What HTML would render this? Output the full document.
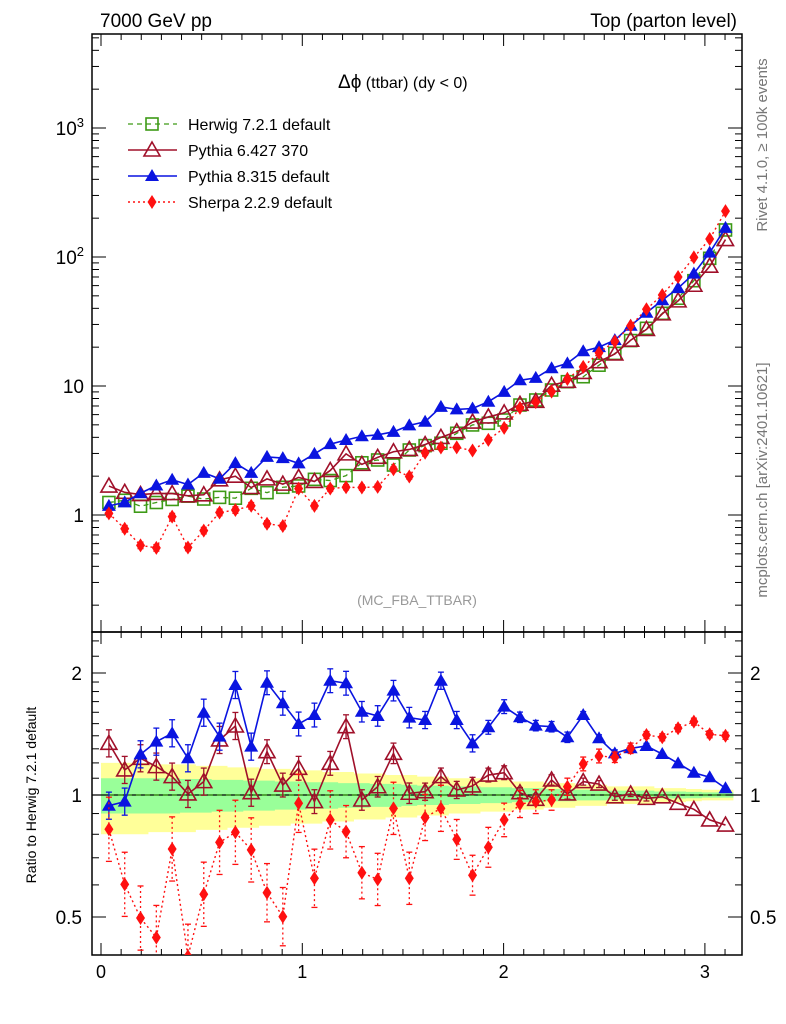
<!DOCTYPE html>
<html><head><meta charset="utf-8"><style>
body{margin:0;background:#fff}
svg{display:block;font-family:"Liberation Sans",sans-serif}
</style></head><body>
<svg id="chart" width="786" height="1024" viewBox="0 0 786 1024" xmlns="http://www.w3.org/2000/svg">
<g id="bands"></g>
<g id="grid"></g>
<g id="series"></g>
<text x="100" y="27" font-size="19">7000 GeV pp</text>
<text x="737" y="27" font-size="19" text-anchor="end">Top (parton level)</text>
<text x="338" y="88" font-size="16"><tspan font-size="19">Δϕ</tspan> (ttbar) (dy &lt; 0)</text>
<text x="417" y="605" font-size="14" fill="#999" text-anchor="middle">(MC_FBA_TTBAR)</text>
<text transform="translate(767,145) rotate(-90)" font-size="15" fill="#777" text-anchor="middle">Rivet 4.1.0, ≥ 100k events</text>
<text transform="translate(767,480) rotate(-90)" font-size="15" fill="#777" text-anchor="middle">mcplots.cern.ch [arXiv:2401.10621]</text>
<text transform="translate(36,795) rotate(-90)" font-size="14" text-anchor="middle">Ratio to Herwig 7.2.1 default</text>
<g id="legend"></g>
</svg>
<script>
const herwig=[1.25,1.3,1.17,1.25,1.32,1.4,1.33,1.37,1.35,1.61,1.49,1.64,1.68,1.89,1.85,2.02,2.54,2.67,2.44,3.19,3.45,3.6,4.3,4.99,5.14,5.45,7.12,7.79,9.31,10.8,11.8,14.5,17.9,22.5,28,36.6,47.9,65.5,97.7,162];
const ratioPy6=[1.341,1.153,1.232,1.175,1.11,1.006,1.079,1.367,1.48,1.013,1.279,1.058,1.164,0.963,1.197,1.474,0.972,1.048,1.267,1.01,1.019,1.11,1.029,1.053,1.12,1.135,1.013,0.976,1.089,1.006,1.079,1.064,0.99,1.006,0.981,0.99,0.954,0.922,0.868,0.843];
const ratioPy8=[0.941,0.963,1.26,1.354,1.42,1.232,1.596,1.393,1.868,1.316,1.892,1.684,1.497,1.575,1.914,1.887,1.605,1.567,1.809,1.552,1.531,1.914,1.531,1.341,1.469,1.652,1.555,1.483,1.474,1.388,1.575,1.38,1.267,1.304,1.321,1.262,1.197,1.135,1.106,1.039];
const ratioSherpa=[0.823,0.602,0.497,0.445,0.736,0.40,0.569,0.764,0.809,0.732,0.574,0.501,0.954,0.623,0.868,0.812,0.643,0.619,0.927,0.623,0.88,0.927,0.777,0.634,0.743,0.868,0.95,0.963,0.972,1.048,1.193,1.248,1.239,1.304,1.406,1.388,1.461,1.517,1.412,1.4];
const bandYellow=[0.2,0.2,0.2,0.19,0.19,0.19,0.18,0.18,0.17,0.17,0.16,0.16,0.15,0.15,0.14,0.14,0.13,0.13,0.12,0.12,0.11,0.11,0.10,0.10,0.09,0.09,0.08,0.08,0.07,0.07,0.06,0.06,0.05,0.05,0.05,0.04,0.04,0.035,0.03,0.03];
const bandGreen=[0.1,0.1,0.1,0.1,0.1,0.095,0.095,0.09,0.09,0.085,0.085,0.08,0.08,0.075,0.075,0.07,0.07,0.065,0.065,0.06,0.055,0.055,0.05,0.05,0.045,0.045,0.04,0.04,0.035,0.035,0.03,0.03,0.025,0.025,0.025,0.02,0.02,0.018,0.015,0.015];
const errPy=[0.08,0.08,0.08,0.08,0.08,0.08,0.08,0.08,0.08,0.08,0.07,0.07,0.07,0.07,0.07,0.07,0.06,0.06,0.06,0.06,0.05,0.05,0.05,0.05,0.04,0.04,0.03,0.03,0.03,0.03,0.02,0.02,0.02,0.015,0.015,0.01,0.01,0.01,0.01,0.01];
const errSherpa=[0.2,0.2,0.2,0.2,0.2,0.2,0.2,0.2,0.2,0.2,0.18,0.18,0.18,0.18,0.18,0.16,0.16,0.16,0.16,0.16,0.14,0.14,0.12,0.12,0.12,0.1,0.08,0.07,0.06,0.05,0.04,0.04,0.03,0.03,0.02,0.02,0.02,0.02,0.02,0.02];
const xTickLabels=["0","1","2","3"];
const mainTicks=[[1000,"10^3"],[100,"10^2"],[10,"10"],[1,"1"]];
const ratioTicks=[[2,"2"],[1,"1"],[0.5,"0.5"]];
const NB=40, W=Math.PI/NB;
const X0=92,X1=742,MT=34,MB=632,RB=955;
const xs=v=>101+v*201.3;
const ym=v=>515-129*Math.log10(v);
const yr=v=>795-122*Math.log2(v);
const NS='http://www.w3.org/2000/svg';
function mk(tag,at,par){const e=document.createElementNS(NS,tag);for(const k in at)e.setAttribute(k,at[k]);par.appendChild(e);return e;}
const G=document.getElementById('grid'),S=document.getElementById('series'),B=document.getElementById('bands'),L=document.getElementById('legend');
// bands
function bandPath(arr){let top='',bot=[];for(let i=0;i<NB;i++){const a=xs(i*W),b=xs((i+1)*W);top+=(i?'L':'M')+a+','+yr(1+arr[i])+'L'+b+','+yr(1+arr[i]);bot.unshift('L'+b+','+yr(1-arr[i])+'L'+a+','+yr(1-arr[i]));}return top+bot.join('')+'Z';}
let by=mk('path',{d:bandPath(bandYellow),fill:'#ffff99'},B);


let bg=mk('path',{d:bandPath(bandGreen),fill:'#99ff99'},B);


// frames
let f1=mk('rect',{x:X0,y:MT,width:X1-X0,height:MB-MT,fill:'none',stroke:'#000','stroke-width':1.5},G);


let f2=mk('rect',{x:X0,y:MB,width:X1-X0,height:RB-MB,fill:'none',stroke:'#000','stroke-width':1.5},G);


mk('line',{x1:X0,x2:X1,y1:yr(1),y2:yr(1),stroke:'#000','stroke-width':1.2},G);
// x ticks
for(let k=0;k<=31;k++){const v=k/10,x=xs(v);if(x>X1)break;const L2=(k%10==0)?12:6;
 for(const [yt,yb] of [[MT,MB],[MB,RB]]){mk('line',{x1:x,x2:x,y1:yt,y2:yt+L2,stroke:'#000'},G);mk('line',{x1:x,x2:x,y1:yb,y2:yb-L2,stroke:'#000'},G);}}
xTickLabels.forEach((t,i)=>{let e=mk('text',{x:xs(i),y:978,'font-size':18,'text-anchor':'middle'},G);e.textContent=t;

});
// main y ticks
for(let d=-1;d<=3;d++)for(let m=1;m<=9;m++){const v=m*Math.pow(10,d),y=ym(v);if(y<MT||y>MB)continue;const l=m==1?14:7;
 mk('line',{x1:X0,x2:X0+l,y1:y,y2:y,stroke:'#000'},G);mk('line',{x1:X1,x2:X1-l,y1:y,y2:y,stroke:'#000'},G);}
mainTicks.forEach(([v,t])=>{let e=mk('text',{x:84,y:ym(v)+7,'font-size':19,'text-anchor':'end'},G);
 if(t.includes('^')){const p=t.split('^');e.textContent=p[0];let s=mk('tspan',{dy:-8,'font-size':13},e);s.textContent=p[1];}else e.textContent=t;

});
// ratio ticks
[0.4,0.5,0.6,0.7,0.8,0.9,1,1.1,1.2,1.3,1.4,1.5,1.6,1.7,1.8,1.9,2,2.2,2.4].forEach(v=>{const y=yr(v);if(y<MB||y>RB)return;const l=(v==0.5||v==1||v==2)?14:7;
 mk('line',{x1:X0,x2:X0+l,y1:y,y2:y,stroke:'#000'},G);mk('line',{x1:X1,x2:X1-l,y1:y,y2:y,stroke:'#000'},G);});
ratioTicks.forEach(([v,t])=>{for(const [x,a] of [[82,'end'],[750,'start']]){let e=mk('text',{x:x,y:yr(v)+7,'font-size':19,'text-anchor':a},G);e.textContent=t;

}});
// markers
function marker(type,x,y,col,par){
 if(type=='sq')return mk('rect',{x:x-6,y:y-6,width:12,height:12,fill:'none',stroke:col,'stroke-width':1.6},par);
 if(type=='tro')return mk('path',{d:`M${x},${y-8}L${x+8},${y+6}L${x-8},${y+6}Z`,fill:'#fff','fill-opacity':0,stroke:col,'stroke-width':1.6},par);
 if(type=='trf')return mk('path',{d:`M${x},${y-7}L${x+7},${y+5}L${x-7},${y+5}Z`,fill:col},par);
 return mk('path',{d:`M${x},${y-7}L${x+4.5},${y}L${x},${y+7}L${x-4.5},${y}Z`,fill:col},par);}
const py6=herwig.map((h,i)=>h*ratioPy6[i]),py8=herwig.map((h,i)=>h*ratioPy8[i]),sh=herwig.map((h,i)=>h*ratioSherpa[i]);
const ones=herwig.map(()=>1);
const defs=[
 {name:'herwig',main:herwig,ratio:ones,err:errPy.map(e=>e*0.3),col:'#3d9a16',dash:'5,4',m:'sq',w:1.3},
 {name:'pythia6',main:py6,ratio:ratioPy6,err:errPy,col:'#a0102a',dash:'',m:'tro',w:1.6},
 {name:'pythia8',main:py8,ratio:ratioPy8,err:errPy,col:'#0a14e0',dash:'',m:'trf',w:1.6},
 {name:'sherpa',main:sh,ratio:ratioSherpa,err:errSherpa,col:'#ff1010',dash:'2,3',m:'dia',w:1.4}];
const clipR=mk('clipPath',{id:'cr'},S);mk('rect',{x:X0,y:MB,width:X1-X0,height:RB-MB},clipR);
defs.forEach(d=>{
 for(const [arr,yf,clip,er] of [[d.main,ym,null,0.3],[d.ratio,yr,'url(#cr)',1]]){
  const g=mk('g',{},S);if(clip)g.setAttribute('clip-path',clip);
  
  
  let pts=arr.map((v,i)=>xs((i+0.5)*W)+','+yf(v)).join(' ');
  mk('polyline',{points:pts,fill:'none',stroke:d.col,'stroke-width':d.w,'stroke-dasharray':d.dash},g);
  arr.forEach((v,i)=>{const x=xs((i+0.5)*W),e=d.err[i]*er;
   if(d.name!='herwig'||clip==null){const y1=yf(v*(1+e)),y2=yf(v/(1+e));
    if(y2-y1>4){mk('line',{x1:x,x2:x,y1:y1,y2:y2,stroke:d.col,'stroke-width':1.3,'stroke-dasharray':d.dash},g);
     mk('line',{x1:x-3,x2:x+3,y1:y1,y2:y1,stroke:d.col,'stroke-width':1.3},g);mk('line',{x1:x-3,x2:x+3,y1:y2,y2:y2,stroke:d.col,'stroke-width':1.3},g);}}
   if(!(d.name=='herwig'&&clip))marker(d.m,x,yf(v),d.col,g);});
 }});
// legend
const legNames=["Herwig 7.2.1 default","Pythia 6.427 370","Pythia 8.315 default","Sherpa 2.2.9 default"];
defs.forEach((d,i)=>{const y=124+26*i;const g=mk('g',{},L);
 
 
 mk('line',{x1:128,x2:177,y1:y,y2:y,stroke:d.col,'stroke-width':d.w,'stroke-dasharray':d.dash},g);
 marker(d.m,152,y,d.col,g);
 let t=mk('text',{x:188,y:y+6,'font-size':16},g);t.textContent=legNames[i];});
</script>
</body></html>
